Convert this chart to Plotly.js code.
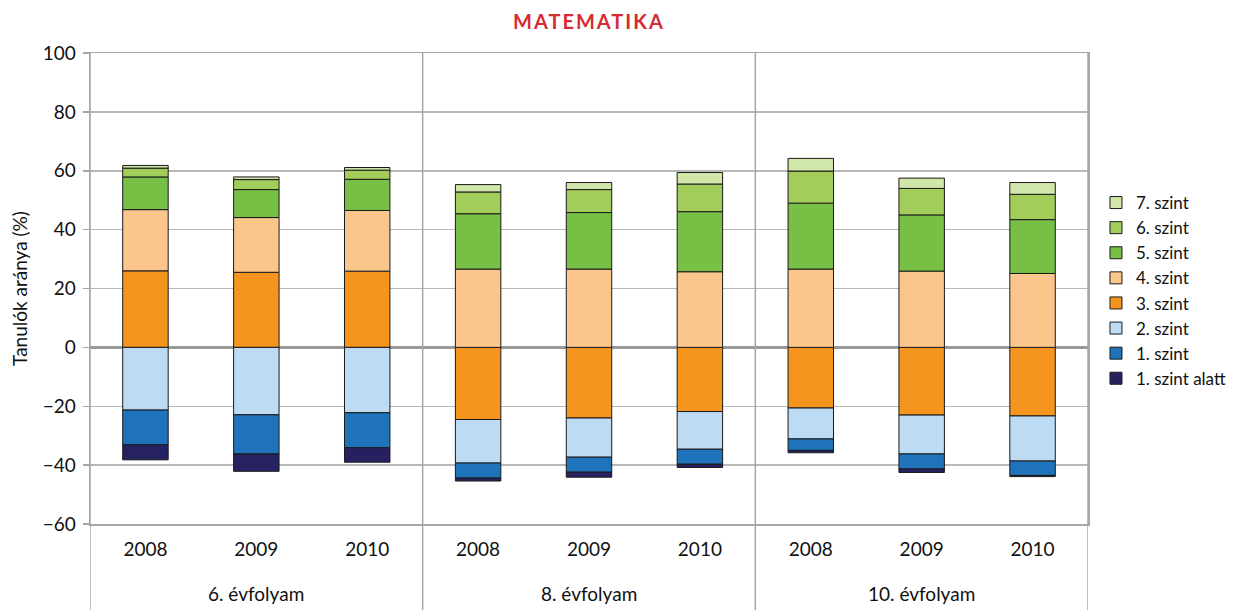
<!DOCTYPE html>
<html>
<head>
<meta charset="utf-8">
<script src="https://cdn.plot.ly/plotly-3.0.1.min.js"></script>
<style>html,body{margin:0;padding:0;background:#fff;}#chart{width:1240px;height:610px;}</style>
</head>
<body>
<div id="chart"></div>
<script>
// Data (signed, as drawn above/below zero)
const years = ["2008", "2009", "2010", "2008", "2009", "2010", "2008", "2009", "2010"];
const groups = ["6. évfolyam", "8. évfolyam", "10. évfolyam"];
const levelNames = ["7. szint", "6. szint", "5. szint", "4. szint", "3. szint", "2. szint", "1. szint", "1. szint alatt"];

const lvl7  = [0.9, 0.9, 0.9, 2.5, 2.4, 3.9, 4.3, 3.5, 4.0];
const lvl6  = [3.0, 3.4, 3.1, 7.4, 7.8, 9.4, 10.9, 9.0, 8.6];
const lvl5  = [11.1, 9.5, 10.6, 18.8, 19.2, 20.4, 22.4, 19.1, 18.3];
const lvl4  = [20.8, 18.6, 20.6, 26.6, 26.6, 25.7, 26.6, 25.9, 25.1];
const lvl3  = [26.0, 25.5, 25.9, -24.5, -24.0, -21.8, -20.6, -23.0, -23.3];
const lvl2  = [-21.3, -22.9, -22.2, -14.8, -13.3, -12.8, -10.5, -13.2, -15.3];
const lvl1  = [-11.8, -13.3, -11.9, -5.1, -5.1, -5.1, -3.9, -5.1, -4.9];
const lvl0  = [-5.1, -5.9, -4.9, -1.0, -1.7, -1.1, -0.8, -1.2, -0.4];

const yTicks = [-60, -40, -20, 0, 20, 40, 60, 80, 100];

const colors = {
  "7. szint": "#d1e6a9",
  "6. szint": "#a3cd5b",
  "5. szint": "#77bf45",
  "4. szint": "#fbc68b",
  "3. szint": "#f5951f",
  "2. szint": "#bddbf2",
  "1. szint": "#1f73ba",
  "1. szint alatt": "#262262"
};

const xpos = years.map((_, i) => i);
const FONT = "Lato, 'Open Sans', sans-serif";

// Trace order controls stacking: positives 3→7, negatives 3→2→1→alatt
const stackOrder = [
  ["3. szint", lvl3], ["4. szint", lvl4], ["5. szint", lvl5], ["6. szint", lvl6], ["7. szint", lvl7],
  ["2. szint", lvl2], ["1. szint", lvl1], ["1. szint alatt", lvl0]
];

const traces = stackOrder.map(([name, vals]) => ({
  type: "bar",
  name: name,
  x: xpos,
  y: vals,
  legendrank: levelNames.indexOf(name) + 1,
  marker: { color: colors[name], line: { color: "#1a1a1a", width: 1 } },
  hoverinfo: "name+y"
}));

const botFrac = 86 / 471;
const lineColor = "#a6a6a6";
const shapes = [];
[-0.5, 2.5, 5.5, 8.5].forEach(xv => {
  shapes.push({ type: "line", xref: "x", yref: "paper", x0: xv, x1: xv, y0: -botFrac - 0.05, y1: 1,
    line: { color: lineColor, width: 1.5 }, layer: "above" });
});

const annotations = groups.map((g, i) => ({
  xref: "x", yref: "paper", x: i * 3 + 1, y: -(593 - 524) / 471,
  text: g, showarrow: false, xanchor: "center", yanchor: "middle",
  font: { family: FONT, size: 19, color: "#111" }
}));

const layout = {
  width: 1240, height: 610,
  margin: { l: 90, r: 152, t: 53, b: 86, autoexpand: false },
  paper_bgcolor: "#fff", plot_bgcolor: "#fff",
  barmode: "relative",
  bargap: 0.59,
  font: { family: FONT, size: 19, color: "#111" },
  title: {
    text: "<span style=\"letter-spacing:2px\"><b>MATEMATIKA</b></span>",
    font: { family: FONT, size: 20, color: "#d52b33" },
    x: 0.5, xref: "paper", xanchor: "center",
    y: 1 - 22 / 610, yref: "container", yanchor: "middle"
  },
  xaxis: {
    range: [-0.5, 8.5],
    tickmode: "array", tickvals: xpos, ticktext: years,
    ticks: "", showgrid: false, zeroline: false,
    showline: true, mirror: true, linecolor: lineColor, linewidth: 1.5,
    ticklabelstandoff: 8,
    tickfont: { family: FONT, size: 19, color: "#111" },
    fixedrange: true
  },
  yaxis: {
    range: [-60, 100],
    tickmode: "array", tickvals: yTicks,
    ticks: "outside", ticklen: 6, tickcolor: lineColor, tickwidth: 1.5,
    ticklabelstandoff: 3,
    showgrid: true, gridcolor: "#b8b8b8", gridwidth: 1.5,
    zeroline: true, zerolinecolor: "#999999", zerolinewidth: 2.5,
    showline: true, mirror: true, linecolor: lineColor, linewidth: 1.5,
    tickfont: { family: FONT, size: 19, color: "#111" },
    title: { text: "Tanulók aránya (%)", font: { family: FONT, size: 19, color: "#111" }, standoff: 10 },
    fixedrange: true
  },
  legend: {
    x: 1.008, xanchor: "left", y: (524 - 185) / 471, yanchor: "top",
    font: { family: FONT, size: 17, color: "#111" },
    tracegroupgap: 0, bgcolor: "rgba(0,0,0,0)"
  },
  shapes: shapes,
  annotations: annotations,
  showlegend: true
};

Plotly.newPlot("chart", traces, layout, { displayModeBar: false, staticPlot: true });
</script>
</body>
</html>
